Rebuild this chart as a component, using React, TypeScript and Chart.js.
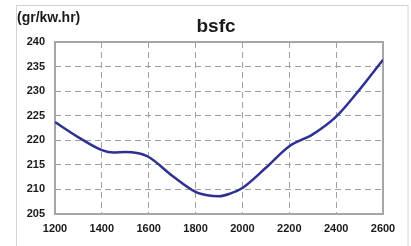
import React, { useEffect, useRef } from "react";
import { Chart, registerables } from "chart.js";

Chart.register(...registerables);

const rpm = [1200, 1300, 1400, 1450, 1500, 1550, 1600, 1700, 1800, 1850, 1900, 1950, 2000, 2100, 2200, 2300, 2400, 2500, 2600];
const bsfc = [223.7, 220.6, 218.0, 217.5, 217.6, 217.4, 216.6, 212.8, 209.5, 208.8, 208.6, 209.2, 210.3, 214.4, 218.8, 221.2, 224.8, 230.3, 236.4];
const titleText = "bsfc";
const unitText = "(gr/kw.hr)";

const FONT = "'Liberation Sans', Arial, sans-serif";

const framePlugin = {
  id: "frame",
  beforeDraw(chart: any) {
    const ctx = chart.ctx;
    ctx.save();
    ctx.fillStyle = "#ffffff";
    ctx.fillRect(0, 0, chart.width, chart.height);
    ctx.strokeStyle = "#d4d4d4";
    ctx.lineWidth = 1;
    ctx.strokeRect(16.5, 5.5, 391.5, 260);
    ctx.fillStyle = "#1a1a1a";
    ctx.font = `bold 14px ${FONT}`;
    ctx.textAlign = "left";
    ctx.textBaseline = "middle";
    ctx.fillText(unitText, 17, 18);
    ctx.font = `bold 19px ${FONT}`;
    ctx.textAlign = "center";
    ctx.fillText(titleText, 216, 27);
    ctx.restore();
  },
  beforeDatasetsDraw(chart: any) {
    const { ctx, chartArea } = chart;
    ctx.save();
    ctx.strokeStyle = "#a6a6a6";
    ctx.lineWidth = 2;
    ctx.strokeRect(chartArea.left, chartArea.top, chartArea.right - chartArea.left, chartArea.bottom - chartArea.top);
    ctx.restore();
  },
};

export default function App() {
  const ref = useRef<HTMLCanvasElement | null>(null);
  useEffect(() => {
    if (!ref.current) return;
    const chart = new Chart(ref.current, {
      type: "line",
      data: {
        datasets: [
          {
            data: rpm.map((x, i) => ({ x, y: bsfc[i] })),
            borderColor: "#2e3192",
            borderWidth: 2.5,
            pointRadius: 0,
            tension: 0.4,
            cubicInterpolationMode: "monotone",
            fill: false,
          },
        ],
      },
      options: {
        animation: false,
        responsive: false,
        maintainAspectRatio: false,
        layout: { padding: { top: 42, right: 28, left: 0, bottom: 0 } },
        plugins: { legend: { display: false }, title: { display: false }, tooltip: { enabled: false } },
        scales: {
          x: {
            type: "linear",
            min: 1200,
            max: 2600,
            ticks: { stepSize: 200, color: "#1a1a1a", font: { family: FONT, size: 11, weight: "bold" }, padding: 8, callback: (v: any) => String(v) },
            grid: { color: "#a0a0a0", lineWidth: 1, drawTicks: false },
            border: { display: false, dash: [6, 4] },
            afterFit: (s: any) => { s.height = 32; },
          },
          y: {
            min: 205,
            max: 240,
            ticks: { stepSize: 5, color: "#1a1a1a", font: { family: FONT, size: 11, weight: "bold" }, padding: 10, callback: (v: any) => String(v) },
            grid: { color: "#a0a0a0", lineWidth: 1, drawTicks: false },
            border: { display: false, dash: [6, 4] },
            afterFit: (s: any) => { s.width = 55; },
          },
        },
      },
      plugins: [framePlugin],
    } as any);
    return () => chart.destroy();
  }, []);
  return (
    <div style={{ position: "fixed", left: 0, top: 0, width: 411, height: 246 }}>
      <canvas ref={ref} width={411} height={246} />
    </div>
  );
}
